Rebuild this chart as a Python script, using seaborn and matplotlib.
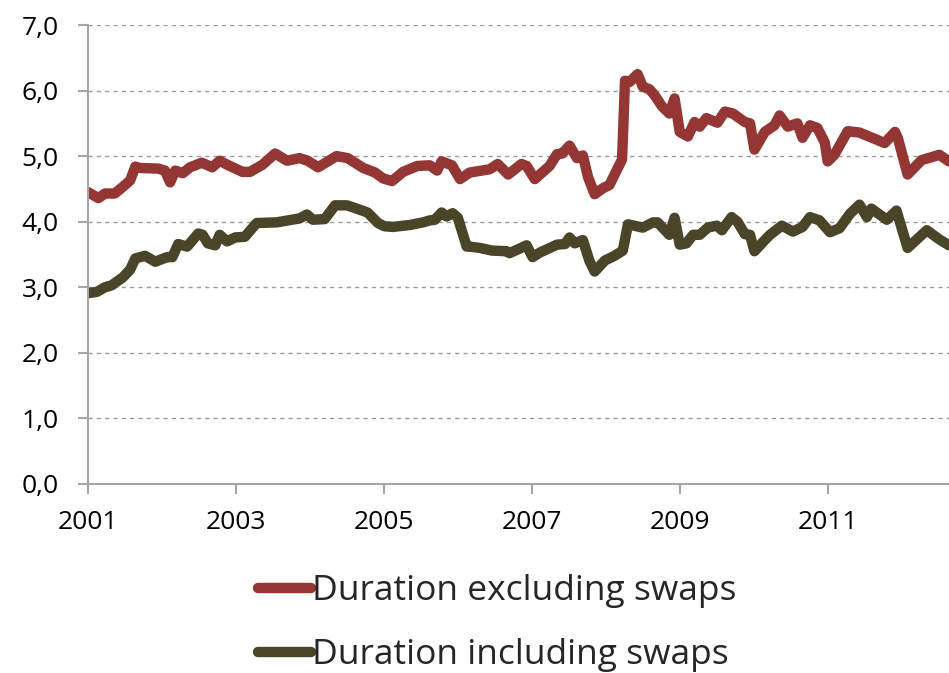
import matplotlib
matplotlib.use("Agg")
import matplotlib.pyplot as plt
from matplotlib.ticker import FuncFormatter, FixedLocator
import numpy as np
import pandas as pd
import seaborn as sns

# Modified duration of the debt portfolio, in years (decimal-year sampling dates)
dates_excl = [2001.00, 2001.14, 2001.23, 2001.36, 2001.47, 2001.57, 2001.64, 2001.70,
              2001.95, 2002.04, 2002.11, 2002.18, 2002.28, 2002.38, 2002.54, 2002.68,
              2002.78, 2002.88, 2003.09, 2003.19, 2003.36, 2003.53, 2003.69, 2003.86,
              2003.97, 2004.11, 2004.36, 2004.51, 2004.72, 2004.88, 2004.99, 2005.11,
              2005.26, 2005.45, 2005.62, 2005.72, 2005.78, 2005.92, 2006.03, 2006.16,
              2006.27, 2006.43, 2006.54, 2006.68, 2006.86, 2006.93, 2007.04, 2007.18,
              2007.24, 2007.34, 2007.41, 2007.51, 2007.61, 2007.69, 2007.76, 2007.85,
              2007.96, 2008.05, 2008.22, 2008.26, 2008.32, 2008.43, 2008.50, 2008.59,
              2008.66, 2008.76, 2008.86, 2008.93, 2009.00, 2009.11, 2009.20, 2009.27,
              2009.36, 2009.51, 2009.61, 2009.72, 2009.78, 2009.88, 2009.95, 2010.01,
              2010.15, 2010.28, 2010.35, 2010.46, 2010.59, 2010.66, 2010.76, 2010.86,
              2010.96, 2011.00, 2011.09, 2011.27, 2011.43, 2011.77, 2011.91, 2011.95,
              2012.08, 2012.27, 2012.51, 2012.64]
duration_excl = [4.45, 4.36, 4.43, 4.43, 4.53, 4.63, 4.84, 4.82,
                 4.81, 4.78, 4.60, 4.78, 4.74, 4.83, 4.90, 4.83,
                 4.93, 4.87, 4.76, 4.76, 4.87, 5.04, 4.93, 4.97,
                 4.93, 4.83, 5.00, 4.97, 4.82, 4.75, 4.66, 4.62,
                 4.76, 4.85, 4.86, 4.78, 4.92, 4.86, 4.65, 4.75,
                 4.77, 4.80, 4.88, 4.72, 4.88, 4.85, 4.65, 4.79,
                 4.85, 5.03, 5.04, 5.16, 4.97, 5.01, 4.68, 4.42,
                 4.51, 4.56, 4.95, 6.15, 6.13, 6.25, 6.06, 6.02,
                 5.93, 5.76, 5.65, 5.88, 5.37, 5.30, 5.52, 5.45,
                 5.58, 5.51, 5.68, 5.65, 5.60, 5.52, 5.50, 5.10,
                 5.37, 5.47, 5.62, 5.45, 5.50, 5.28, 5.47, 5.43,
                 5.21, 4.92, 5.02, 5.38, 5.36, 5.20, 5.37, 5.27,
                 4.72, 4.94, 5.02, 4.92]

dates_incl = [2001.00, 2001.12, 2001.23, 2001.32, 2001.47, 2001.57, 2001.64, 2001.77,
              2001.91, 2002.07, 2002.14, 2002.22, 2002.34, 2002.49, 2002.55, 2002.62,
              2002.72, 2002.78, 2002.88, 2002.99, 2003.12, 2003.28, 2003.55, 2003.86,
              2003.96, 2004.04, 2004.20, 2004.34, 2004.50, 2004.58, 2004.78, 2004.92,
              2005.01, 2005.12, 2005.35, 2005.53, 2005.62, 2005.69, 2005.78, 2005.85,
              2005.93, 2006.00, 2006.12, 2006.16, 2006.30, 2006.46, 2006.66, 2006.70,
              2006.93, 2007.01, 2007.11, 2007.34, 2007.45, 2007.51, 2007.58, 2007.69,
              2007.78, 2007.85, 2007.99, 2008.12, 2008.23, 2008.30, 2008.50, 2008.64,
              2008.70, 2008.86, 2008.93, 2009.00, 2009.09, 2009.18, 2009.27, 2009.38,
              2009.50, 2009.57, 2009.70, 2009.78, 2009.88, 2009.95, 2010.01, 2010.15,
              2010.22, 2010.38, 2010.53, 2010.66, 2010.76, 2010.89, 2011.03, 2011.16,
              2011.30, 2011.43, 2011.53, 2011.59, 2011.80, 2011.93, 2012.08, 2012.34,
              2012.51, 2012.64]
duration_incl = [2.91, 2.93, 3.00, 3.03, 3.15, 3.27, 3.44, 3.48,
                 3.39, 3.46, 3.46, 3.66, 3.62, 3.82, 3.80, 3.67,
                 3.64, 3.80, 3.70, 3.76, 3.77, 3.98, 3.99, 4.05,
                 4.11, 4.03, 4.04, 4.25, 4.25, 4.22, 4.14, 3.98,
                 3.93, 3.92, 3.95, 3.99, 4.02, 4.03, 4.14, 4.08,
                 4.13, 4.06, 3.62, 3.62, 3.60, 3.56, 3.55, 3.52,
                 3.64, 3.46, 3.53, 3.65, 3.66, 3.76, 3.67, 3.72,
                 3.40, 3.24, 3.41, 3.48, 3.56, 3.96, 3.91, 3.99,
                 3.99, 3.80, 4.06, 3.65, 3.67, 3.80, 3.80, 3.91,
                 3.94, 3.87, 4.07, 4.00, 3.81, 3.80, 3.55, 3.72,
                 3.80, 3.94, 3.85, 3.92, 4.07, 4.02, 3.84, 3.90,
                 4.12, 4.26, 4.07, 4.20, 4.03, 4.17, 3.60, 3.87,
                 3.73, 3.64]

series_names = ["Duration excluding swaps", "Duration including swaps"]
series_colors = ["#943634", "#4a4529"]
year_ticks = [2001, 2003, 2005, 2007, 2009, 2011]
value_ticks = [0, 1, 2, 3, 4, 5, 6, 7]

df = pd.concat([
    pd.DataFrame({"year": dates_excl, "duration": duration_excl, "series": series_names[0]}),
    pd.DataFrame({"year": dates_incl, "duration": duration_incl, "series": series_names[1]}),
], ignore_index=True)

sns.set_theme(style="white")
plt.rcParams["font.family"] = ["Open Sans", "DejaVu Sans"]

W, H = 949, 673
fig = plt.figure(figsize=(W / 100, H / 100), dpi=100)
ax = fig.add_axes([88 / W, 1 - 484 / H, 1 - 88 / W, (484 - 25) / H])

sns.lineplot(data=df, x="year", y="duration", hue="series",
             palette=dict(zip(series_names, series_colors)),
             estimator=None, linewidth=7.5, ax=ax, legend=True)
for ln in ax.get_lines():
    ln.set_solid_joinstyle("round")
    ln.set_solid_capstyle("round")

ax.set_xlim(2001, 2012.64)
ax.set_ylim(0, 7)
ax.xaxis.set_major_locator(FixedLocator(year_ticks))
ax.yaxis.set_major_locator(FixedLocator(value_ticks))
ax.yaxis.set_major_formatter(FuncFormatter(lambda v, _: f"{v:.1f}".replace(".", ",")))
ax.xaxis.set_major_formatter(FuncFormatter(lambda v, _: f"{int(v)}"))
ax.set_xlabel("")
ax.set_ylabel("")

ax.grid(axis="y", color="#9a9a9a", linestyle=(0, (3, 3)), linewidth=1.0)
ax.set_axisbelow(True)
for side in ("top", "right"):
    ax.spines[side].set_visible(False)
for side in ("left", "bottom"):
    ax.spines[side].set_color("#a6a6a6")
    ax.spines[side].set_linewidth(1.5)

ax.tick_params(axis="both", which="major", direction="out", length=7, width=1.5,
               color="#a6a6a6", labelsize=19, labelcolor="#000000")
ax.tick_params(axis="y", pad=14, left=True)
ax.tick_params(axis="x", pad=12, bottom=True)

handles, labels = ax.get_legend_handles_labels()
ax.get_legend().remove()
leg = fig.legend(handles, labels, loc="center", bbox_to_anchor=(0.524, 0.074),
                 frameon=False, ncol=1, fontsize=25.5, handlelength=1.5,
                 handletextpad=0.05, labelspacing=0.85)
for h in leg.legend_handles:
    h.set_linewidth(7.5)
    h.set_solid_capstyle("round")

fig.savefig("out.png", dpi=100)
